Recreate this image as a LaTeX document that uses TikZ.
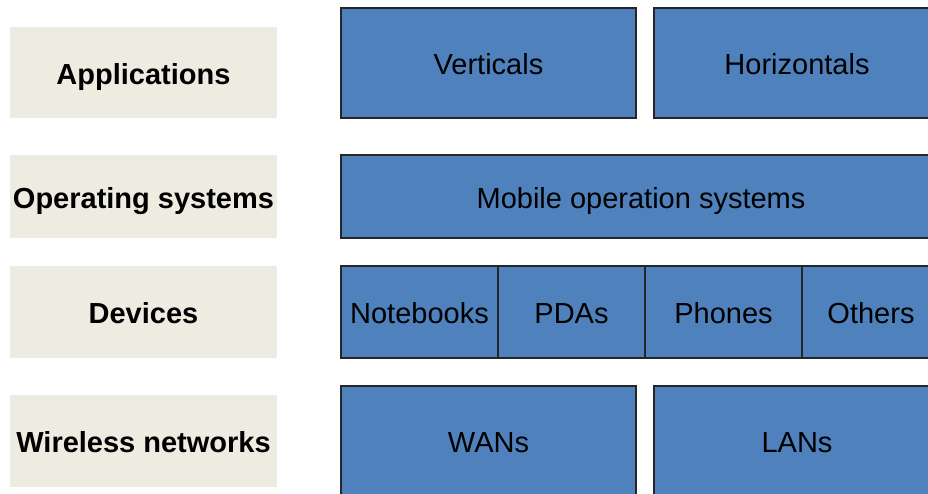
\documentclass[tikz,border=0pt]{standalone}
\usepackage{fontspec}
\setmainfont{Liberation Sans}
\usepackage{xcolor}
\definecolor{layerbg}{HTML}{EEECE1}
\definecolor{layerblue}{HTML}{4F81BD}
\begin{document}
\begin{tikzpicture}[x=1pt,y=-1pt,
  layer/.style={fill=layerbg,inner sep=2pt,font=\fontsize{29}{34}\selectfont\bfseries,
    text height=23pt,text depth=0pt,minimum width=267pt},
  part/.style={fill=layerblue,draw=black!85,line width=1.3pt,inner sep=2pt,
    text height=23pt,text depth=0pt,font=\fontsize{29}{34}\selectfont}]
\useasboundingbox (0,0) rectangle (928,493);
\clip (0,0) rectangle (928,493);
% left column
\node[layer,minimum height=91pt] (app) at (143.5,72.5) {Applications};
\node[layer,minimum height=83pt] (os) at (143.5,196.5) {Operating systems};
\node[layer,minimum height=92pt] (dev) at (143.5,312) {Devices};
\node[layer,minimum height=92pt] (net) at (143.5,441) {Wireless networks};
% right column
\node[part,minimum width=295pt,minimum height=110pt] (vert) at (488.5,63) {Verticals};
\node[part,minimum width=286pt,minimum height=110pt] (horiz) at (797,63) {Horizontals};
\node[part,minimum width=600pt,minimum height=83pt] (mos) at (641,196.5) {Mobile operation systems};
\node[part,minimum width=157pt,minimum height=92pt] (note) at (419.5,312) {Notebooks};
\node[part,minimum width=147pt,minimum height=92pt] (pda) at (571.5,312) {PDAs};
\node[part,minimum width=157pt,minimum height=92pt] (phone) at (723.5,312) {Phones};
\node[part,minimum width=138pt,minimum height=92pt] (other) at (871,312) {Others};
\node[part,minimum width=295pt,minimum height=110pt] (wan) at (488.5,441) {WANs};
\node[part,minimum width=286pt,minimum height=110pt] (lan) at (797,441) {LANs};
\end{tikzpicture}
\end{document}
